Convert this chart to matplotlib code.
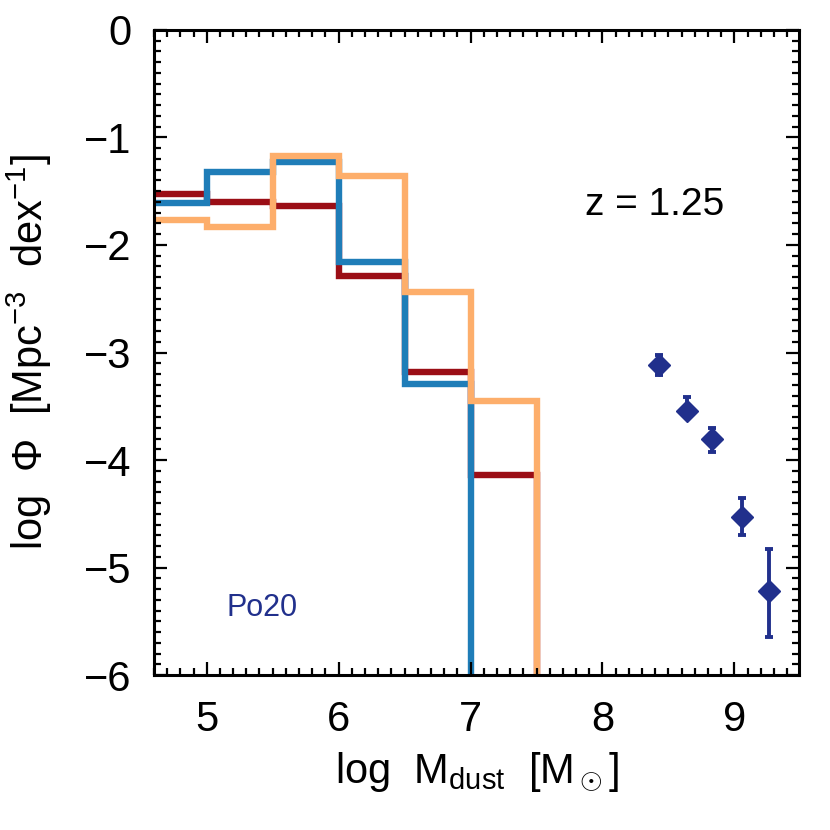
import numpy as np
import matplotlib
matplotlib.use("Agg")
import matplotlib.pyplot as plt
from matplotlib import font_manager

# Pick a narrow sans if it is there (the reference uses a condensed font)
names = {f.name for f in font_manager.fontManager.ttflist}
font = "Liberation Sans Narrow" if "Liberation Sans Narrow" in names else "Liberation Sans"
plt.rcParams['font.family'] = [font, 'DejaVu Sans']
plt.rcParams['mathtext.fontset'] = 'custom'
plt.rcParams['mathtext.rm'] = font
plt.rcParams['mathtext.it'] = font
plt.rcParams['mathtext.default'] = 'rm'

# Histogram bins (log M_dust), 0.5 dex wide
bin_edges = [4.5, 5.0, 5.5, 6.0, 6.5, 7.0, 7.5, 8.0]

# log Phi per bin, -inf = empty bin
phi_red = [-1.53, -1.60, -1.64, -2.29, -3.18, -4.14, -np.inf]
phi_blue = [-1.605, -1.32, -1.23, -2.16, -3.29, -np.inf, -np.inf]
phi_orange = [-1.77, -1.83, -1.17, -1.36, -2.44, -3.45, -np.inf]

# Po20 observations
obs_x = [8.43, 8.64, 8.83, 9.06, 9.26]
obs_y = [-3.12, -3.54, -3.80, -4.53, -5.22]
obs_err_lo = [0.09, 0.06, 0.13, 0.17, 0.43]
obs_err_hi = [0.10, 0.13, 0.10, 0.18, 0.39]

col_red = '#9b0e16'
col_blue = '#1f7db8'
col_orange = '#fdae6b'
col_navy = '#21308c'

fig = plt.figure(figsize=(8.3, 8.3), dpi=100)
ax = fig.add_axes([0.1855, 0.1867, 0.7772, 0.7772])

# Step histograms (empty bins drawn far below the axis so the line drops out)
for vals, col in [(phi_red, col_red), (phi_blue, col_blue), (phi_orange, col_orange)]:
    v = np.array(vals)
    v = np.where(np.isfinite(v), v, -99.0)
    ax.stairs(v, bin_edges, baseline=None, color=col, lw=4.6, joinstyle='miter')

# Data points with error bars
ax.errorbar(obs_x, obs_y, yerr=[obs_err_lo, obs_err_hi], fmt='D', color=col_navy,
            ms=11, elinewidth=2.8, capsize=3, capthick=2.8, zorder=5)

ax.set_xlim(4.6, 9.49)
ax.set_ylim(-6.0, 0.0)
ax.set_xticks([5, 6, 7, 8, 9])
ax.set_yticks([0, -1, -2, -3, -4, -5, -6])
ax.set_xticks(np.arange(4.6, 9.5, 0.1), minor=True)
ax.set_yticks(np.arange(-6.0, 0.01, 0.1), minor=True)

ax.tick_params(which='both', direction='in', top=True, right=True, width=1.6)
ax.tick_params(which='major', length=9.5, labelsize=30)
ax.tick_params(which='minor', length=5)
ax.tick_params(axis='x', pad=18)
ax.tick_params(axis='y', pad=16)
for s in ax.spines.values():
    s.set_linewidth(2.2)

ax.set_xlabel(r'log  M$_{\rm dust}$  [M$_\odot$]', fontsize=30, labelpad=8)
ax.set_ylabel(r'log  $\Phi$  [Mpc$^{-3}$  dex$^{-1}$]', fontsize=30, labelpad=22)

ax.text(0.668, 0.729, 'z = 1.25', transform=ax.transAxes, fontsize=28,
        ha='left', va='center')
ax.text(0.112, 0.104, 'Po20', transform=ax.transAxes, fontsize=22,
        color=col_navy, ha='left', va='center')

fig.savefig('out.png', dpi=100)
